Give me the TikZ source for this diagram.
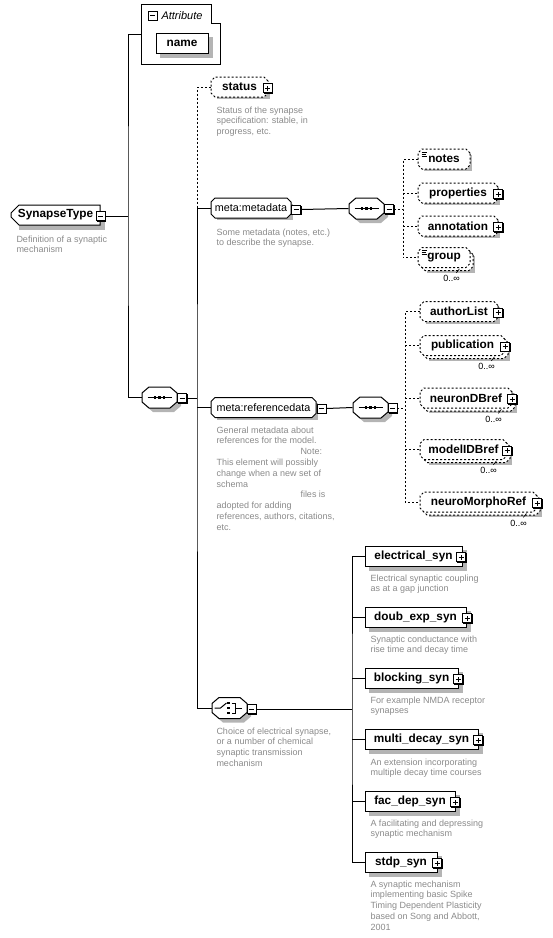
\documentclass[tikz,border=0pt]{standalone}
\usepackage{fontspec}
\setmainfont{Liberation Sans}
\usepackage{tikz}
\usetikzlibrary{calc,shapes.misc,backgrounds}

\definecolor{descgray}{RGB}{138,138,138}
\definecolor{shadegray}{RGB}{180,180,180}

% duong vien bat giac cua bo ghep, lech #2
\newcommand{\octpath}[2]{([shift={(-10.5+#2,-10.5+#2)}]#1.center) -- ([shift={(10.5+#2,-10.5+#2)}]#1.center)
  -- ([shift={(17.5+#2,-4.5+#2)}]#1.center) -- ([shift={(17.5+#2,4.5+#2)}]#1.center)
  -- ([shift={(10.5+#2,10.5+#2)}]#1.center) -- ([shift={(-10.5+#2,10.5+#2)}]#1.center)
  -- ([shift={(-17.5+#2,4.5+#2)}]#1.center) -- ([shift={(-17.5+#2,-4.5+#2)}]#1.center) -- cycle}

\tikzset{
  dashline/.style={dash pattern=on 2pt off 2pt},
  copyback/.style={preaction={draw=black, fill=white, line width=1pt, dashline, transform canvas={shift={(#1,#1)}}}},
  chamf/.style={chamfered rectangle, chamfered rectangle xsep=2pt, chamfered rectangle ysep=2pt},
  box/.style={draw, fill=white, line width=1pt, inner sep=0pt, minimum height=20pt, font=\fontsize{11.8}{13}\selectfont\bfseries},
  refbox/.style={box, chamf, font=\fontsize{10.8}{12}\selectfont},
  optbox/.style={box, chamf, dashline},
  multibox/.style={box, chamf, dashline, copyback=3},
  comp/.style={draw=none, inner sep=0pt, minimum width=35pt, minimum height=21pt},
  pmbox/.style={draw, fill=white, line width=0.8pt, inner sep=0pt, minimum size=9pt},
  plusbox/.style={pmbox, path picture={\draw[line width=0.8pt]
    ([xshift=2pt]path picture bounding box.west) -- ([xshift=-2pt]path picture bounding box.east)
    ([yshift=2pt]path picture bounding box.south) -- ([yshift=-2pt]path picture bounding box.north);}},
  minusbox/.style={pmbox, path picture={\draw[line width=0.8pt]
    ([xshift=2pt]path picture bounding box.west) -- ([xshift=-2pt]path picture bounding box.east);}},
  desc/.style={anchor=north west, inner sep=0pt, align=left, text=descgray, font=\fontsize{9}{10.8}\selectfont},
  occ/.style={anchor=north east, inner sep=0pt, font=\fontsize{9}{10.8}\selectfont}
}

\begin{document}
\begin{tikzpicture}[x=1pt, y=-1pt, line width=1pt, line join=miter]
	\useasboundingbox (0,0) rectangle (553,938);
	% Nhóm thuộc tính
	\node[minimum width=78pt, minimum height=59pt, inner sep=0pt] (attrbox) at (181,34.5) {};
	\draw (attrbox.north west) -- ([shift={(-9,0)}]attrbox.north east) -- ([shift={(-9,19)}]attrbox.north east)
	  -- ([shift={(0,19)}]attrbox.north east) -- (attrbox.south east) -- (attrbox.south west) -- cycle;
	\node[anchor=west, inner sep=0pt, font=\fontsize{11}{12}\selectfont\itshape] (attrlbl) at (161,15.5) {Attribute};
	\node[box, minimum width=52pt] (nameattr) at (182,43) {name};
	% Kiểu gốc
	\node[box, chamfered rectangle, chamfered rectangle corners={north west, south west},
	  chamfered rectangle xsep=4pt, chamfered rectangle ysep=4pt, minimum width=89pt] (syntype) at (55.5,215) {SynapseType};
	\node[desc] (syntypedesc) at (16,235) {Definition of a synaptic\\mechanism};
	% Các bộ ghép (sequence, choice)
	\node[comp] (seq1) at (159.5,397.5) {};
	\node[comp] (mdseq) at (366.5,208.5) {};
	\node[comp] (rdseq) at (370.5,407.5) {};
	\node[comp] (choice) at (229.5,708) {};
	\foreach \s in {seq1, mdseq, rdseq, choice}{
	  \path[fill=shadegray] \octpath{\s}{4};
	  \draw[fill=white] \octpath{\s}{0};
	}
	\foreach \s in {seq1, mdseq, rdseq}{
	  \draw ([shift={(-12,0)}]\s.center) -- ([shift={(12,0)}]\s.center);
	  \foreach \d in {-4.5,0,4.5}
	    \fill ([shift={(\d-1.3,-1.3)}]\s.center) rectangle ([shift={(\d+1.3,1.3)}]\s.center);
	}
	\draw ([shift={(-15,0)}]choice.center) -- ([shift={(-9,0)}]choice.center) -- ([shift={(-3,-5)}]choice.center);
	\foreach \d in {-5,0,5}
	  \fill ([shift={(-2.3,\d-1.2)}]choice.center) rectangle ([shift={(0.3,\d+1.2)}]choice.center);
	\draw ([shift={(2,-5)}]choice.center) -- ([shift={(6,-5)}]choice.center) -- ([shift={(6,5)}]choice.center)
	  -- ([shift={(2,5)}]choice.center) ([shift={(6,0)}]choice.center) -- ([shift={(12,0)}]choice.center);
	% Các phần tử con
	\node[optbox, minimum width=57pt] (status) at (239.5,87) {status};
	\node[refbox, minimum width=80pt] (metadata) at (251,208) {meta:metadata};
	\node[refbox, minimum width=105pt] (refdata) at (263.5,407.5) {meta:referencedata};
	\node[optbox, minimum width=52pt] (notes) at (444,159) {notes};
	\node[optbox, minimum width=80pt] (properties) at (458,193) {properties};
	\node[optbox, minimum width=80pt] (annotation) at (458,226) {annotation};
	\node[multibox, minimum width=52pt] (group) at (444,257.5) {group};
	\node[optbox, minimum width=78pt] (authorlist) at (459,311.5) {authorList};
	\node[multibox, minimum width=85pt] (publication) at (462.5,345.5) {publication};
	\node[multibox, minimum width=92pt] (neurondb) at (466,398) {neuronDBref};
	\node[multibox, minimum width=87pt] (modeldb) at (463.5,449.5) {modelIDBref};
	\node[multibox, minimum width=117pt] (neuromorpho) at (478.5,502) {neuroMorphoRef};
	\node[box, minimum width=97pt] (electrical) at (413.5,556) {electrical\_syn};
	\node[box, minimum width=101pt] (doubexp) at (415.5,617) {doub\_exp\_syn};
	\node[box, minimum width=93pt] (blocking) at (411.5,678) {blocking\_syn};
	\node[box, minimum width=113pt] (multidecay) at (421.5,739) {multi\_decay\_syn};
	\node[box, minimum width=90pt] (facdep) at (410,801) {fac\_dep\_syn};
	\node[box, minimum width=72pt] (stdp) at (401,862) {stdp\_syn};
	% Bóng đổ xám
	\begin{scope}[on background layer]
	  \foreach \n in {nameattr, syntype, status, metadata, refdata, notes, properties, annotation,
	      authorlist, electrical, doubexp, blocking, multidecay, facdep, stdp}
	    \path[fill=shadegray] ([shift={(4,4)}]\n.north west) rectangle ([shift={(4,4)}]\n.south east);
	  \foreach \n in {group, publication, neurondb, modeldb, neuromorpho}
	    \path[fill=shadegray] ([shift={(7,7)}]\n.north west) rectangle ([shift={(7,7)}]\n.south east);
	\end{scope}
	% Biểu tượng nội dung văn bản
	\foreach \n in {notes, group}
	  \foreach \dy/\len in {1.5/5.5, 3.5/4, 5.5/5.5}
	    \draw[line width=0.7pt] ([shift={(2,\dy)}]\n.north west) -- ([shift={(2+\len,\dy)}]\n.north west);
	% Số lần xuất hiện 0..∞
	\foreach \n in {group, publication, neurondb, modeldb, neuromorpho}{
	  \draw[line width=0.6pt] ([shift={(-9,3)}]\n.south east) -- ([shift={(-12,7)}]\n.south east);
	  \node[occ] (\n-occ) at ([shift={(-8,9)}]\n.south east) {0..∞};
	}
	% Nút cộng / trừ
	\foreach \n/\px/\py in {attr/152.5/15.5, syntype/100.5/216, metadata/296/209.5, mdseq/389/209,
	    seq1/182/398, refdata/321.5/408.5, rdseq/392.5/408, choice/251.5/709}{
	  \fill (\px-3.9,\py-3.9) rectangle (\px+5.9,\py+5.9);
	  \node[minusbox] (\n-m) at (\px,\py) {};
	}
	\foreach \n/\px/\py in {status/267.5/88, properties/498/194, annotation/498/227,
	    authorlist/498/312.5, publication/505/346.5, neurondb/512/399, modeldb/507/450.5,
	    neuromorpho/537/503, electrical/461/557, doubexp/467/618, blocking/458/679,
	    multidecay/478/740, facdep/455/802, stdp/437/863}{
	  \fill (\px-3.9,\py-3.9) rectangle (\px+5.9,\py+5.9);
	  \node[plusbox] (\n-p) at (\px,\py) {};
	}
	% Chú thích
	\node[desc] (statusdesc) at (216,106) {Status of the synapse\\specification: stable, in\\progress, etc.};
	\node[desc] (metadatadesc) at (216,228) {Some metadata (notes, etc.)\\to describe the synapse.};
	\node[desc] (refdatadesc) at (216,426) {General metadata about\\references for the model.\\
	  \hspace*{84pt}Note:\\This element will possibly\\change when a new set of\\schema\\
	  \hspace*{84pt}files is\\adopted for adding\\references, authors, citations,\\etc.};
	\node[desc] (choicedesc) at (216,727) {Choice of electrical synapse,\\or a number of chemical\\synaptic transmission\\mechanism};
	\node[desc] (electricaldesc) at (370,574) {Electrical synaptic coupling\\as at a gap junction};
	\node[desc] (doubexpdesc) at (370,635) {Synaptic conductance with\\rise time and decay time};
	\node[desc] (blockingdesc) at (370,696) {For example NMDA receptor\\synapses};
	\node[desc] (multidecaydesc) at (370,758) {An extension incorporating\\multiple decay time courses};
	\node[desc] (facdepdesc) at (370,819) {A facilitating and depressing\\synaptic mechanism};
	\node[desc] (stdpdesc) at (370,880) {A synaptic mechanism\\implementing basic Spike\\Timing Dependent Plasticity\\based on Song and Abbott,\\2001};
	% Đường nối
	\coordinate (bus1) at (128,216);
	\coordinate (bus2) at (197,398);
	\coordinate (bus3) at (403,209);
	\coordinate (bus4) at (405,408);
	\coordinate (bus5) at (352,709);
	\draw (syntype-m.east) -- (bus1);
	\draw (attrbox.west) -| (bus1) |- (seq1.west);
	\draw (seq1-m.east) -- (bus2);
	\draw[dashline] (status.west) -| (bus2 |- metadata.west);
	\draw (metadata.west) -| (bus2) |- (choice.west);
	\draw (bus2 |- refdata.west) -- (refdata.west);
	\draw (metadata-m.east) -- (mdseq.west);
	\draw[dashline] (mdseq-m.east) -- (bus3);
	\draw[dashline] (notes.west) -| (bus3) |- (group.west);
	\foreach \n in {properties, annotation}
	  \draw[dashline] (\n.west -| bus3) -- (\n.west);
	\draw (refdata-m.east) -- (rdseq.west);
	\draw[dashline] (rdseq-m.east) -- (bus4);
	\draw[dashline] (authorlist.west) -| (bus4) |- (neuromorpho.west);
	\foreach \n in {publication, neurondb, modeldb}
	  \draw[dashline] (\n.west -| bus4) -- (\n.west);
	\draw (choice-m.east) -- (bus5);
	\draw (electrical.west) -| (bus5) |- (stdp.west);
	\foreach \n in {doubexp, blocking, multidecay, facdep}
	  \draw (\n.west -| bus5) -- (\n.west);
\end{tikzpicture}
\end{document}
